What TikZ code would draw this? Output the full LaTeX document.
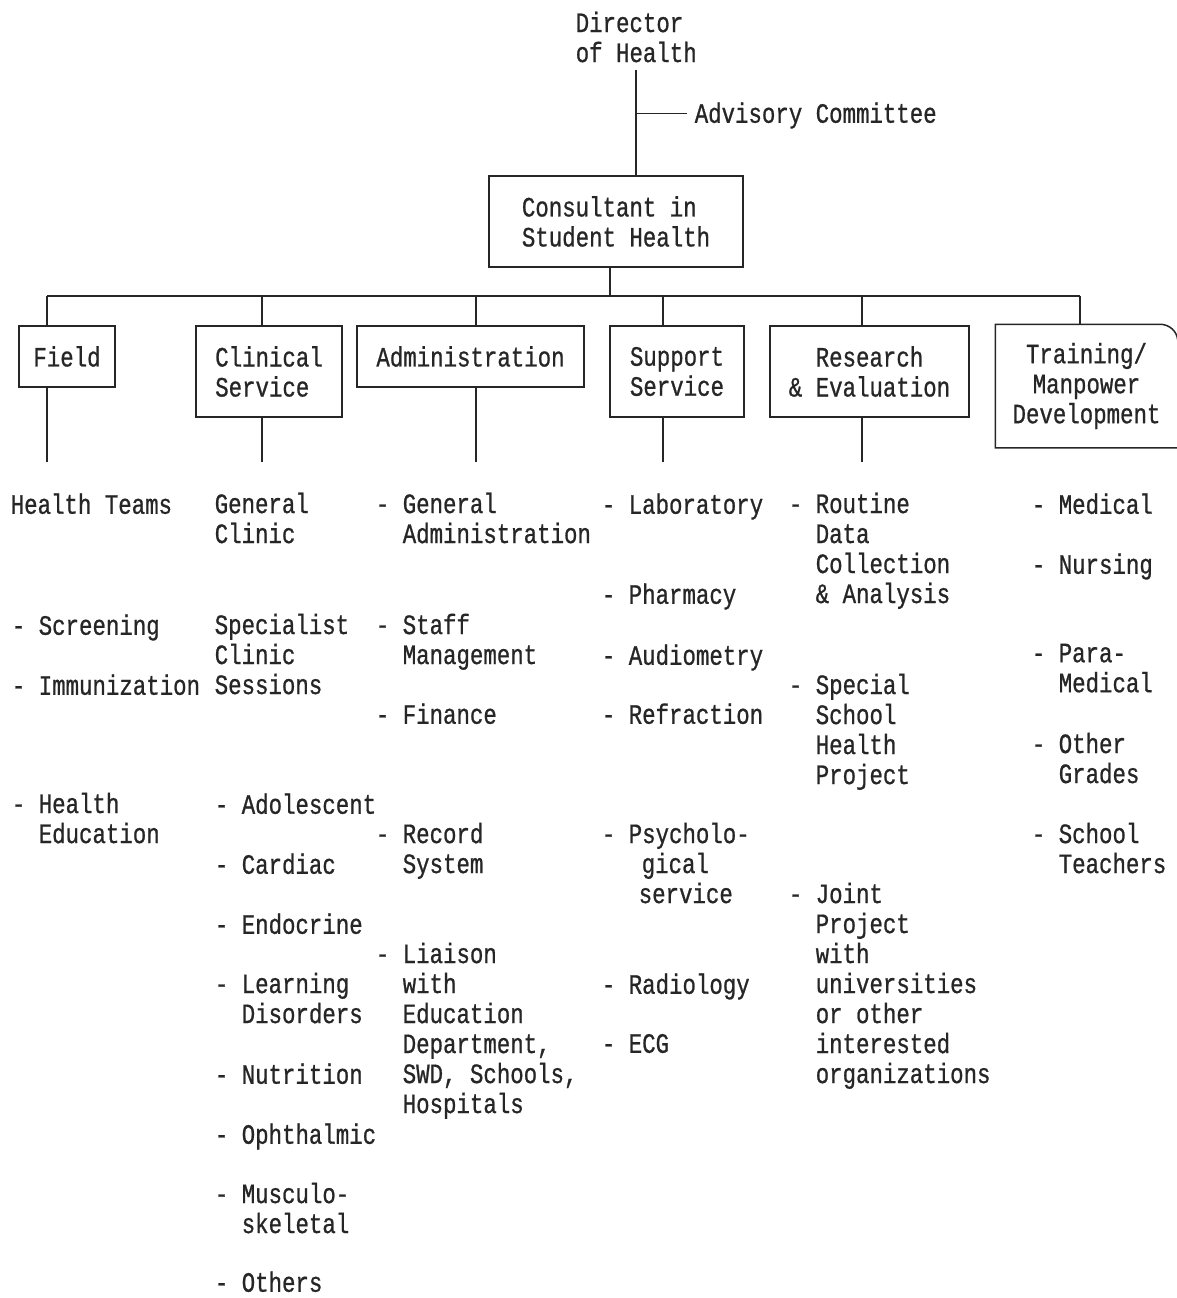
\documentclass[tikz,border=0pt]{standalone}
\usepackage{fontspec}
\newfontfamily\tyfont[FakeStretch=0.8,FakeBold=0.8]{Liberation Mono}
\newcommand\tw{\tyfont\fontsize{28}{30}\selectfont}
\begin{document}
\begin{tikzpicture}[x=1pt,y=-1pt,
  line width=1.5pt, draw=black!85,
  every node/.style={font=\tw, text=black!85},
  box/.style={draw=black!85, inner sep=0pt},
  leaf/.style={anchor=north west, inner sep=0pt, align=left,
    execute at begin node={\rule{0pt}{24pt}}},
  ]
\useasboundingbox (0,0) rectangle (1177,1298);

% top
\node[leaf] (dir) at (575,11) {Director\\of Health};
\coordinate (dtop) at (636,70);
\node[leaf] (adv) at (694,98) {Advisory Committee};
\node[box, align=left, minimum width=254pt, minimum height=91pt] (cons) at (616,221.5) {Consultant in\\Student Health};
\draw (dtop) -- (dtop |- cons.north);
\draw (dtop |- adv.west) -- ([xshift=-7pt]adv.west);

% bus
\coordinate (bus) at (610,296);
\coordinate (bl) at (47,296);
\coordinate (br) at (1080,296);
\draw (bus |- cons.south) -- (bus);
\draw (bl) -- (br);

% department boxes
\node[box, minimum width=96pt, minimum height=61pt] (field) at (67,356.5) {Field};
\node[box, align=left, minimum width=146pt, minimum height=91pt] (clin) at (269,371.5) {Clinical\\Service};
\node[box, minimum width=227pt, minimum height=61pt] (admin) at (470.5,356.5) {Administration};
\node[box, align=left, minimum width=134pt, minimum height=91pt] (supp) at (677,371.5) {Support\\Service};
\node[box, align=center, minimum width=199pt, minimum height=91pt] (res) at (869.5,371.5) {Research\\\& Evaluation};
\node[inner sep=0pt, align=center, minimum width=181pt, minimum height=122pt] (train) at (1086.5,386) {Training/\\Manpower\\Development};
\draw (train.south east) -- (train.south west) -- (train.north west) -- ([xshift=-18pt]train.north east) to[out=0,in=95] ([yshift=-16pt]train.north east);

% drops from bus
\coordinate (d1) at (47,296);
\coordinate (d2) at (262,296);
\coordinate (d3) at (476,296);
\coordinate (d4) at (663,296);
\coordinate (d5) at (862,296);
\coordinate (d6) at (1080,296);
\draw (d1) -- (d1 |- field.north);
\draw (d2) -- (d2 |- clin.north);
\draw (d3) -- (d3 |- admin.north);
\draw (d4) -- (d4 |- supp.north);
\draw (d5) -- (d5 |- res.north);
\draw (d6) -- (d6 |- train.north);

% drops below boxes
\coordinate (e1) at (47,462);
\coordinate (e2) at (262,462);
\coordinate (e3) at (476,462);
\coordinate (e4) at (663,462);
\coordinate (e5) at (862,462);
\draw (e1 |- field.south) -- (e1);
\draw (e2 |- clin.south) -- (e2);
\draw (e3 |- admin.south) -- (e3);
\draw (e4 |- supp.south) -- (e4);
\draw (e5 |- res.south) -- (e5);

% Field column
\node[leaf] (f1) at (10,489) {Health Teams};
\node[leaf] (f2) at (38,610) {\llap{- }Screening};
\node[leaf] (f3) at (38,670) {\llap{- }Immunization};
\node[leaf] (f4) at (38,792) {\llap{- }Health\\Education};

% Clinical column
\node[leaf] (c1) at (214,492) {General\\Clinic};
\node[leaf] (c2) at (214,613) {Specialist\\Clinic\\Sessions};
\node[leaf] (c3) at (241,789) {\llap{- }Adolescent};
\node[leaf] (c4) at (241,849) {\llap{- }Cardiac};
\node[leaf] (c5) at (241,909) {\llap{- }Endocrine};
\node[leaf] (c6) at (241,972) {\llap{- }Learning\\Disorders};
\node[leaf] (c7) at (241,1059) {\llap{- }Nutrition};
\node[leaf] (c8) at (241,1119) {\llap{- }Ophthalmic};
\node[leaf] (c9) at (241,1182) {\llap{- }Musculo-\\skeletal};
\node[leaf] (c10) at (241,1267) {\llap{- }Others};

% Administration column
\node[leaf] (a1) at (402,492) {\llap{- }General\\Administration};
\node[leaf] (a2) at (402,613) {\llap{- }Staff\\Management};
\node[leaf] (a3) at (402,699) {\llap{- }Finance};
\node[leaf] (a4) at (402,822) {\llap{- }Record\\System};
\node[leaf] (a5) at (402,942) {\llap{- }Liaison\\with\\Education\\Department,\\SWD, Schools,\\Hospitals};

% Support column
\node[leaf] (s1) at (628,489) {\llap{- }Laboratory};
\node[leaf] (s2) at (628,579) {\llap{- }Pharmacy};
\node[leaf] (s3) at (628,640) {\llap{- }Audiometry};
\node[leaf] (s4) at (628,699) {\llap{- }Refraction};
\node[leaf] (s5) at (628,822) {\llap{- }Psycholo-\\\hspace*{13pt}gical\\\hspace*{10pt}service};
\node[leaf] (s6) at (628,969) {\llap{- }Radiology};
\node[leaf] (s7) at (628,1028) {\llap{- }ECG};

% Research column
\node[leaf] (r1) at (815,492) {\llap{- }Routine\\Data\\Collection\\\& Analysis};
\node[leaf] (r2) at (815,673) {\llap{- }Special\\School\\Health\\Project};
\node[leaf] (r3) at (815,882) {\llap{- }Joint\\Project\\with\\universities\\or other\\interested\\organizations};

% Training column
\node[leaf] (t1) at (1058,489) {\llap{- }Medical};
\node[leaf] (t2) at (1058,549) {\llap{- }Nursing};
\node[leaf] (t3) at (1058,643) {\llap{- }Para-\\Medical};
\node[leaf] (t4) at (1058,732) {\llap{- }Other\\Grades};
\node[leaf] (t5) at (1058,822) {\llap{- }School\\Teachers};
\end{tikzpicture}
\end{document}
